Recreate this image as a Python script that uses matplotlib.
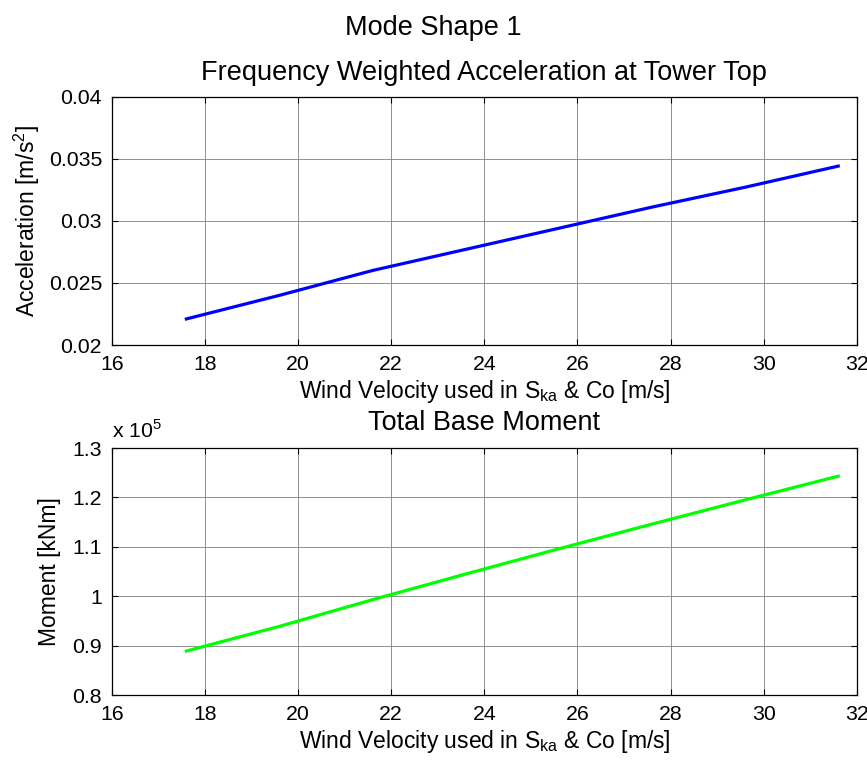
import matplotlib.pyplot as plt
from matplotlib.ticker import FuncFormatter

plt.rcParams['font.family'] = ['Liberation Sans', 'DejaVu Sans']

# wind velocity used in S_ka & Co [m/s]
wind = [17.6, 19.6, 21.6, 23.6, 25.6, 27.6, 29.6, 31.6]
# frequency weighted acceleration at tower top [m/s^2]
accel = [0.0221, 0.0240, 0.0260, 0.0277, 0.0294, 0.0311, 0.0327, 0.0344]
# total base moment [kNm]
moment = [88900, 93900, 99300, 104500, 109600, 114600, 119500, 124300]

xticks = [16, 18, 20, 22, 24, 26, 28, 30, 32]
acc_ticks = [0.02, 0.025, 0.03, 0.035, 0.04]
mom_ticks = [80000, 90000, 100000, 110000, 120000, 130000]

xlabel = r'Wind Velocity used in S$_{\mathregular{ka}}$ & Co [m/s]'

TICK_FS = 15.3
LABEL_FS = 16.5
TITLE_FS = 19.5


def style_axes(ax):
    ax.grid(True, color='#7f7f7f', linewidth=0.6)
    ax.tick_params(direction='in', top=True, right=True, length=4,
                   labelsize=TICK_FS, width=0.8)
    ax.tick_params(axis='x', pad=7)
    ax.tick_params(axis='y', pad=7)
    for s in ax.spines.values():
        s.set_linewidth(0.9)
    ax.xaxis.set_major_formatter(FuncFormatter(lambda v, p: '%g' % v))


fig = plt.figure(figsize=(8.67, 7.6), dpi=100)

#-----------------------TOP: acceleration-----------------------
ax1 = fig.add_axes([0.129, 0.546, 0.8593, 0.327])
ax1.plot(wind, accel, color='#0000ff', linewidth=2.3)
ax1.set_xlim(16, 32)
ax1.set_ylim(0.02, 0.04)
ax1.set_xticks(xticks)
ax1.set_yticks(acc_ticks)
style_axes(ax1)
ax1.yaxis.set_major_formatter(FuncFormatter(lambda v, p: '%g' % v))
ax1.set_title('Frequency Weighted Acceleration at Tower Top', fontsize=TITLE_FS, pad=12)
ax1.set_xlabel(xlabel, fontsize=LABEL_FS, labelpad=3)
ax1.set_ylabel(r'Acceleration [m/s$^{\mathregular{2}}$]', fontsize=LABEL_FS, labelpad=5)

#-----------------------BOTTOM: moment-----------------------
ax2 = fig.add_axes([0.129, 0.0855, 0.8593, 0.325])
ax2.plot(wind, moment, color='#00ff00', linewidth=2.3)
ax2.set_xlim(16, 32)
ax2.set_ylim(80000, 130000)
ax2.set_xticks(xticks)
ax2.set_yticks(mom_ticks)
style_axes(ax2)
ax2.yaxis.set_major_formatter(FuncFormatter(lambda v, p: '%g' % (v / 1e5)))
ax2.text(0.0, 1.04, r'x 10$^{\mathregular{5}}$', transform=ax2.transAxes,
         fontsize=TICK_FS, ha='left', va='baseline')
ax2.set_title('Total Base Moment', fontsize=TITLE_FS, pad=13)
ax2.set_xlabel(xlabel, fontsize=LABEL_FS, labelpad=3)
ax2.set_ylabel('Moment [kNm]', fontsize=LABEL_FS, labelpad=8)

fig.text(0.5, 1 - 35 / 760, 'Mode Shape 1', fontsize=TITLE_FS, ha='center', va='baseline')

fig.savefig('out.png', dpi=100)
